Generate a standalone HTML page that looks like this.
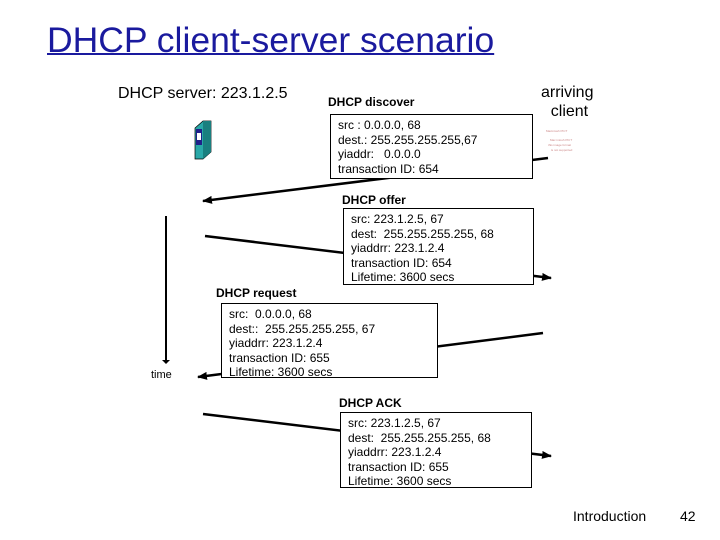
<!DOCTYPE html>
<html><head><style>
body{margin:0;width:720px;height:540px;background:#fff;position:relative;font-family:"Liberation Sans",sans-serif;overflow:hidden}
.a{position:absolute;white-space:nowrap}
.box{position:absolute;border:1px solid #000;background:#fff;box-sizing:border-box;padding:3px 0 0 7px;font-size:12px;line-height:14.6px}
.b{font-weight:bold;font-size:12px}
</style></head><body>
<div class="a" style="left:47px;top:20px;font-size:35.5px;color:#1a1a9e;text-decoration:underline;text-decoration-thickness:2px">DHCP client-server scenario</div>
<div class="a" style="left:118px;top:85px;font-size:16px">DHCP server: 223.1.2.5</div>
<div class="a" style="left:541px;top:83px;font-size:16px;text-align:center;line-height:19px">arriving<br>&nbsp;client</div>
<div class="a b" style="left:328px;top:95px">DHCP discover</div>
<div class="a b" style="left:342px;top:193px">DHCP offer</div>
<div class="a b" style="left:216px;top:286px">DHCP request</div>
<div class="a b" style="left:339px;top:396px">DHCP ACK</div>
<div class="a" style="left:151px;top:369px;font-size:11px">time</div>
<svg class="a" style="left:0;top:0" width="720" height="540">
<defs><marker id="m" markerWidth="10" markerHeight="8" refX="9" refY="4" orient="auto" markerUnits="userSpaceOnUse"><path d="M0,0L10,4L0,8z"/></marker></defs>
<g stroke="#000" stroke-width="2.5" fill="none">
<line x1="548" y1="158" x2="203" y2="201" marker-end="url(#m)"/>
<line x1="205" y1="236" x2="551" y2="278" marker-end="url(#m)"/>
<line x1="543" y1="333" x2="198" y2="377" marker-end="url(#m)"/>
<line x1="203" y1="414" x2="551" y2="456" marker-end="url(#m)"/>
<line x1="166" y1="216" x2="166" y2="360" stroke-width="2"/>
</g>
<path d="M162,360L170,360L166,364z"/>
<g>
<path d="M195,128L203,121L211,121L211,152L203,159L195,159z" fill="#2aa8a8" stroke="#000" stroke-width="0.7"/>
<path d="M203,121L211,121L211,152L203,159z" fill="#1a7f7f"/>
<rect x="196" y="129" width="6" height="16" fill="#20208a"/>
<rect x="197" y="133" width="4" height="7" fill="#fff"/>
</g>
<g font-family="Liberation Sans" font-size="3" fill="#c88">
<text x="546" y="132">Macintosh PICT</text>
<text x="550" y="141">Mac intosh PICT</text>
<text x="548" y="146">this image format</text>
<text x="551" y="151">is not supported</text>
</g>
</svg>
<div class="box" style="left:330px;top:114px;width:203px;height:65px">src : 0.0.0.0, 68<br>dest.: 255.255.255.255,67<br>yiaddr: &nbsp;&nbsp;0.0.0.0<br>transaction ID: 654</div>
<div class="box" style="left:343px;top:208px;width:191px;height:77px">src: 223.1.2.5, 67<br>dest: &nbsp;255.255.255.255, 68<br>yiaddrr: 223.1.2.4<br>transaction ID: 654<br>Lifetime: 3600 secs</div>
<div class="box" style="left:221px;top:303px;width:217px;height:75px">src: &nbsp;0.0.0.0, 68<br>dest:: &nbsp;255.255.255.255, 67<br>yiaddrr: 223.1.2.4<br>transaction ID: 655<br>Lifetime: 3600 secs</div>
<div class="box" style="left:340px;top:412px;width:192px;height:76px">src: 223.1.2.5, 67<br>dest: &nbsp;255.255.255.255, 68<br>yiaddrr: 223.1.2.4<br>transaction ID: 655<br>Lifetime: 3600 secs</div>
<div class="a" style="left:573px;top:508px;font-size:14px">Introduction</div>
<div class="a" style="left:680px;top:508px;font-size:14px">42</div>
</body></html>
